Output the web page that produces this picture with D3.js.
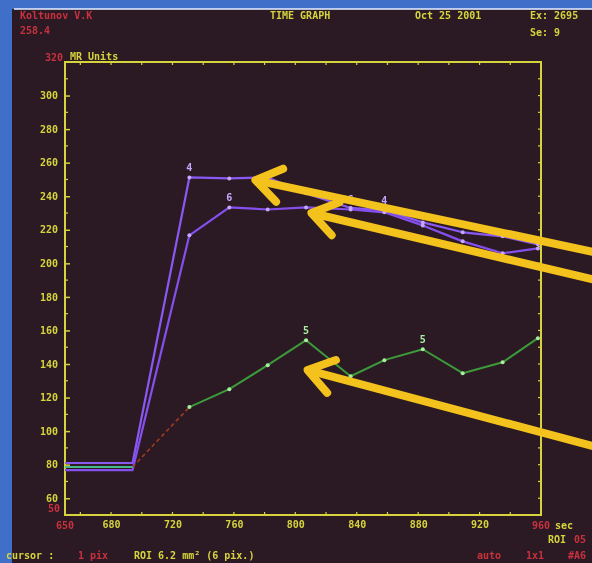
<!DOCTYPE html>
<html>
<head>
<meta charset="utf-8">
<script src="https://cdn.jsdelivr.net/npm/d3@7"></script>
<style>
  body { margin: 0; background: #3f6fc8; overflow: hidden; }
  svg { display: block; }
  text { font-family: "DejaVu Sans Mono", monospace; font-weight: bold; }
</style>
</head>
<body>
<div id="chart"></div>
<script>
// sample times (sec) and MR signal for the three ROI slices
const times  = [650, 694, 731, 757, 782, 807, 836, 858, 883, 909, 935, 958];
const slice4 = [81, 81, 251.2, 250.6, 251.2, 241.7, 233.0, 231.5, 224.4, 218.5, 216.1, 211.3];
const slice6 = [76.8, 76.8, 216.7, 233.3, 232.1, 233.3, 232.1, 230.4, 222.6, 213.1, 206.0, 208.9];
const slice5 = [78.6, 78.6, 114.3, 125.0, 139.3, 154.2, 132.7, 142.3, 148.8, 134.5, 141.0, 155.4];

// which samples carry a slice number above them
const peaks4 = [2, 7];
const peaks6 = [3, 6];
const peaks5 = [5, 8];

const yTicks = [60, 80, 100, 120, 140, 160, 180, 200, 220, 240, 260, 280, 300];
const xTicks = [680, 720, 760, 800, 840, 880, 920];

// yellow pointer arrows drawn over the screen (tip, tail in data units)
const arrowTips  = [[774, 249.6], [810.5, 230], [808, 136.4]];
const arrowTails = [[998, 206], [998, 189.5], [998, 90]];

const W = 592, H = 563;
const margin = {top: 62, right: 51, bottom: 48, left: 65};

const svg = d3.select("#chart").append("svg")
    .attr("width", W)
    .attr("height", H);

const defs = svg.append("defs");
defs.append("filter").attr("id", "soft")
    .append("feGaussianBlur").attr("stdDeviation", 0.6);

// dark monitor face
svg.append("rect")
    .attr("x", 12).attr("y", 9)
    .attr("width", W - 12).attr("height", H - 9)
    .attr("fill", "#2b1a23");
svg.append("line")
    .attr("x1", 14).attr("x2", W).attr("y1", 9).attr("y2", 9)
    .attr("stroke", "#dfe8ff").attr("stroke-width", 2).attr("opacity", 0.8);

const g = svg.append("g").attr("filter", "url(#soft)");

const x = d3.scaleLinear().domain([650, 960]).range([margin.left, W - margin.right]);
const y = d3.scaleLinear().domain([50, 320]).range([H - margin.bottom, margin.top]);

const yellow = "#d6d43c";
const red = "#c8303e";

// header texts
const hdr = [
    {t: "Koltunov V.K", x: 20, y: 19, c: red},
    {t: "258.4", x: 20, y: 34, c: red},
    {t: "TIME GRAPH", x: 270, y: 19, c: yellow},
    {t: "Oct 25 2001", x: 415, y: 19, c: yellow},
    {t: "Ex: 2695", x: 530, y: 19, c: yellow},
    {t: "Se: 9", x: 530, y: 36, c: yellow}
];
g.selectAll(".hdr").data(hdr).join("text")
    .attr("class", "hdr")
    .attr("x", d => d.x).attr("y", d => d.y)
    .attr("fill", d => d.c)
    .attr("font-size", 10)
    .text(d => d.t);

// frame
const x0 = x.range()[0], x1 = x.range()[1], y0 = y.range()[0], y1 = y.range()[1];
g.append("rect")
    .attr("x", x0).attr("y", y1)
    .attr("width", x1 - x0).attr("height", y0 - y1)
    .attr("fill", "none")
    .attr("stroke", yellow)
    .attr("stroke-width", 2);

// y axis, ticks point inside
const yAxis = d3.axisLeft(y).tickValues(yTicks).tickSize(-5).tickPadding(7)
    .tickFormat(d3.format("d"));
const yAxisGroup = g.append("g")
    .attr("transform", `translate(${x0},0)`)
    .call(yAxis);
yAxisGroup.select(".domain").remove();
yAxisGroup.selectAll("line").attr("stroke", yellow).attr("stroke-width", 1.5);
yAxisGroup.selectAll("text").attr("fill", yellow).attr("font-size", 10)
    .attr("font-family", "DejaVu Sans Mono");

const yMinor = d3.range(70, 320, 20);
g.selectAll(".yminor").data(yMinor).join("line")
    .attr("x1", x0).attr("x2", x0 + 3)
    .attr("y1", d => y(d)).attr("y2", d => y(d))
    .attr("stroke", yellow).attr("stroke-width", 1.2);
g.selectAll(".ymirror").data(yMinor.concat(yTicks)).join("line")
    .attr("x1", x1).attr("x2", x1 - 3)
    .attr("y1", d => y(d)).attr("y2", d => y(d))
    .attr("stroke", yellow).attr("stroke-width", 1.2);

// x axis
const xAxis = d3.axisBottom(x).tickValues(xTicks).tickSize(0).tickPadding(6)
    .tickFormat(d3.format("d"));
const xAxisGroup = g.append("g")
    .attr("transform", `translate(0,${y0})`)
    .call(xAxis);
xAxisGroup.select(".domain").remove();
xAxisGroup.selectAll("text").attr("fill", yellow).attr("font-size", 10)
    .attr("font-family", "DejaVu Sans Mono");

const xMinor = d3.range(660, 960, 20);
g.selectAll(".xminor").data(xMinor).join("line")
    .attr("x1", d => x(d)).attr("x2", d => x(d))
    .attr("y1", y0).attr("y2", y0 - 3)
    .attr("stroke", yellow).attr("stroke-width", 1.2);
g.selectAll(".xtop").data(xMinor).join("line")
    .attr("x1", d => x(d)).attr("x2", d => x(d))
    .attr("y1", y1).attr("y2", y1 + 3)
    .attr("stroke", yellow).attr("stroke-width", 1.2);

// axis extremes in red
g.append("text").attr("x", x0 - 2).attr("y", y(320) - 1)
    .attr("text-anchor", "end").attr("fill", red).attr("font-size", 10).text("320");
g.append("text").attr("x", x0 + 5).attr("y", y(320) - 2)
    .attr("fill", yellow).attr("font-size", 10).text("MR Units");
g.append("text").attr("x", x0 - 5).attr("y", y(50) - 3)
    .attr("text-anchor", "end").attr("fill", red).attr("font-size", 10).text("50");
g.append("text").attr("x", x(650)).attr("y", y0 + 14)
    .attr("text-anchor", "middle").attr("fill", red).attr("font-size", 10).text("650");
g.append("text").attr("x", x(960)).attr("y", y0 + 14)
    .attr("text-anchor", "middle").attr("fill", red).attr("font-size", 10).text("960");
g.append("text").attr("x", x(960) + 14).attr("y", y0 + 14)
    .attr("fill", yellow).attr("font-size", 10).text("sec");

// footer
const foot = [
    {t: "ROI", x: 548, y: 543, c: yellow},
    {t: "05", x: 574, y: 543, c: red},
    {t: "cursor :", x: 6, y: 559, c: yellow},
    {t: "1", x: 78, y: 559, c: red},
    {t: "pix", x: 90, y: 559, c: red},
    {t: "ROI 6.2 mm\u00b2 (6 pix.)", x: 134, y: 559, c: yellow},
    {t: "auto", x: 477, y: 559, c: red},
    {t: "1x1", x: 526, y: 559, c: red},
    {t: "#A6", x: 568, y: 559, c: red}
];
g.selectAll(".foot").data(foot).join("text")
    .attr("class", "foot")
    .attr("x", d => d.x).attr("y", d => d.y)
    .attr("fill", d => d.c)
    .attr("font-size", 10)
    .text(d => d.t);

// series
const line = d3.line()
    .x(d => x(d[0]))
    .y(d => y(d[1]));

const series = [
    {vals: slice4, color: "#8a58f2", dot: "#c4a8ff", peaks: peaks4, label: "4"},
    {vals: slice6, color: "#8550ee", dot: "#c4a8ff", peaks: peaks6, label: "6"},
    {vals: slice5, color: "#3c9a3a", dot: "#a8f0a0", peaks: peaks5, label: "5"}
];

series.forEach(s => {
    const pts = times.map((t, i) => [t, s.vals[i]]);
    const solid = s.label === "5" ? [pts.slice(0, 2), pts.slice(2)] : [pts];
    solid.forEach(p => {
        g.append("path")
            .attr("d", line(p))
            .attr("fill", "none")
            .attr("stroke", s.color)
            .attr("stroke-width", s.label === "5" ? 2 : 2.2)
            .attr("stroke-linejoin", "round");
    });
    if (s.label === "5") {
        // the gap while the bolus arrives is drawn dotted
        g.append("path")
            .attr("d", line(pts.slice(1, 3)))
            .attr("fill", "none")
            .attr("stroke", "#a03a22")
            .attr("stroke-width", 1.6)
            .attr("stroke-dasharray", "4,3");
    }
    g.selectAll(null).data(pts.slice(2)).join("circle")
        .attr("cx", d => x(d[0])).attr("cy", d => y(d[1]))
        .attr("r", 2)
        .attr("fill", s.dot);
    g.selectAll(null).data(s.peaks).join("text")
        .attr("x", i => x(times[i]))
        .attr("y", i => y(s.vals[i]) - 6)
        .attr("text-anchor", "middle")
        .attr("fill", s.dot)
        .attr("font-size", 10)
        .text(s.label);
});

// baseline trace in teal between the purple ones
g.append("path")
    .attr("d", line(times.slice(0, 2).map((t, i) => [t, slice5[i]])))
    .attr("fill", "none")
    .attr("stroke", "#4cc0a8")
    .attr("stroke-width", 1.5);

// pointer arrows
const arrowColor = "#f4c21c";
arrowTips.forEach((tip, i) => {
    const tail = arrowTails[i];
    const tx = x(tip[0]), ty = y(tip[1]);
    const ex = x(tail[0]), ey = y(tail[1]);
    const ang = Math.atan2(ey - ty, ex - tx);
    const len = 30, spread = 0.6;
    const a = g.append("g")
        .attr("stroke", arrowColor)
        .attr("stroke-width", 8)
        .attr("stroke-linecap", "round")
        .attr("fill", "none");
    a.append("line").attr("x1", tx + 4).attr("y1", ty + 1).attr("x2", ex).attr("y2", ey);
    a.append("path")
        .attr("d", `M${tx + len * Math.cos(ang - spread)},${ty + len * Math.sin(ang - spread)}`
            + `L${tx},${ty}`
            + `L${tx + len * Math.cos(ang + spread)},${ty + len * Math.sin(ang + spread)}`)
        .attr("stroke-linejoin", "round");
});
</script>
</body>
</html>
